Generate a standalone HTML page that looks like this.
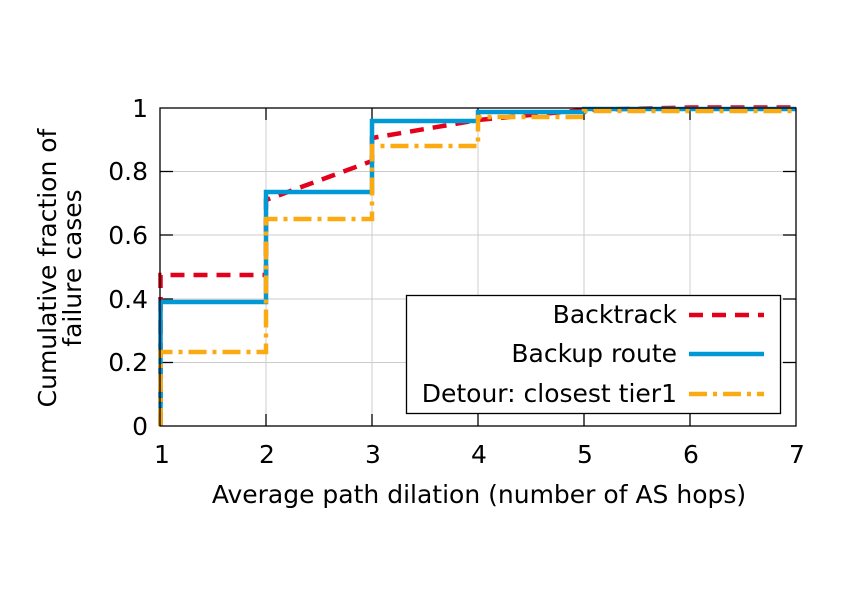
<!DOCTYPE html>
<html><head><style>body{margin:0;background:#fff}svg{display:block}text{font-family:"DejaVu Sans","Liberation Sans",sans-serif;fill:#000}</style></head>
<body>
<svg width="846" height="594" viewBox="0 0 846 594" xmlns="http://www.w3.org/2000/svg">
<g stroke="#ccc" stroke-width="1">
<line x1="266" y1="108" x2="266" y2="426"/><line x1="372" y1="108" x2="372" y2="426"/>
<line x1="478" y1="108" x2="478" y2="426"/><line x1="584" y1="108" x2="584" y2="426"/>
<line x1="690" y1="108" x2="690" y2="426"/>
<line x1="160" y1="171.5" x2="796" y2="171.5"/><line x1="160" y1="235" x2="796" y2="235"/>
<line x1="160" y1="299" x2="796" y2="299"/><line x1="160" y1="362.5" x2="796" y2="362.5"/>
</g>
<g stroke="#000" stroke-width="1.3">
<line x1="266" y1="426" x2="266" y2="414"/><line x1="372" y1="426" x2="372" y2="414"/><line x1="478" y1="426" x2="478" y2="414"/><line x1="584" y1="426" x2="584" y2="414"/><line x1="690" y1="426" x2="690" y2="414"/>
<line x1="266" y1="108" x2="266" y2="120"/><line x1="372" y1="108" x2="372" y2="120"/><line x1="478" y1="108" x2="478" y2="120"/><line x1="584" y1="108" x2="584" y2="120"/><line x1="690" y1="108" x2="690" y2="120"/>
<line x1="160" y1="171.5" x2="173" y2="171.5"/><line x1="160" y1="235" x2="173" y2="235"/><line x1="160" y1="299" x2="173" y2="299"/><line x1="160" y1="362.5" x2="173" y2="362.5"/>
<line x1="796" y1="171.5" x2="783" y2="171.5"/><line x1="796" y1="235" x2="783" y2="235"/><line x1="796" y1="299" x2="783" y2="299"/><line x1="796" y1="362.5" x2="783" y2="362.5"/>
</g>
<g fill="none" stroke-width="4.5">
<polyline stroke="#e4001b" stroke-dasharray="14,9" points="160.5,426 160.5,275 266,275 266,200 372,161 372,138 478,120 584,110 690,107.5 796,107.5"/>
<polyline stroke="#0099d6" points="160.5,426 160.5,302 266,302 266,192 372,192 372,121 478,121 478,112 584,112 584,109 690,109 796,109"/>
<polyline stroke="#fbaa12" stroke-dasharray="18,6,4,6" points="160.5,426 160.5,352 266,352 266,219 372,219 372,146 478,146 478,117 584,117 584,111 690,111 796,111"/>
</g>
<rect x="160" y="108" width="636" height="318" fill="none" stroke="#000" stroke-width="1.3"/>
<rect x="406.5" y="295.5" width="374" height="118" fill="#fff" stroke="#000" stroke-width="1.3"/>
<g font-size="25" text-anchor="end">
<text x="677" y="323">Backtrack</text>
<text x="677" y="362">Backup route</text>
<text x="677" y="402">Detour: closest tier1</text>
</g>
<g stroke-width="4.5"><line x1="689" y1="315" x2="764" y2="315" stroke="#e4001b" stroke-dasharray="14,9"/>
<line x1="689" y1="354" x2="764" y2="354" stroke="#0099d6"/>
<line x1="689" y1="394" x2="764" y2="394" stroke="#fbaa12" stroke-dasharray="18,6,4,6"/></g>
<g font-size="25" text-anchor="end">
<text x="148" y="117">1</text><text x="148" y="180">0.8</text><text x="148" y="244">0.6</text><text x="148" y="308">0.4</text><text x="148" y="371">0.2</text><text x="148" y="435">0</text>
</g>
<g font-size="25" text-anchor="middle">
<text x="162" y="463">1</text><text x="267" y="463">2</text><text x="373" y="463">3</text><text x="479" y="463">4</text><text x="585" y="463">5</text><text x="691" y="463">6</text><text x="797" y="463">7</text>
<text x="479" y="503">Average path dilation (number of AS hops)</text>
<text transform="translate(56,268) rotate(-90)">Cumulative fraction of</text>
<text transform="translate(81,268) rotate(-90)">failure cases</text>
</g>
</svg>
</body></html>
